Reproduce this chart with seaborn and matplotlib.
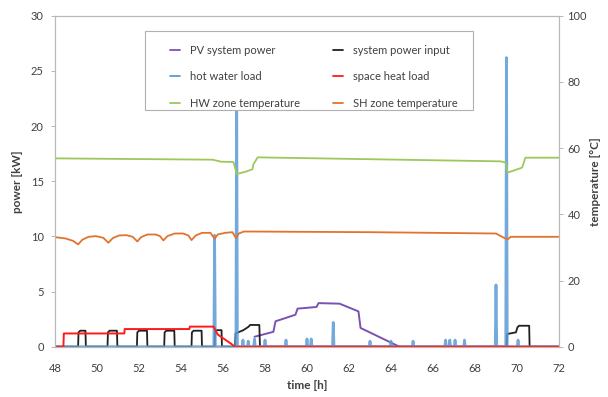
import matplotlib
matplotlib.use("Agg")
import matplotlib.pyplot as plt
import matplotlib.patches as mpatches
import numpy as np
import pandas as pd
import seaborn as sns

# ---------------- data ----------------
pv_time = [57.5, 58.4, 58.5, 59.45, 59.55, 60.45, 60.55, 61.55, 62.45, 62.55, 64.4]
pv_power = [0.9, 1.35, 2.3, 2.9, 3.45, 3.6, 3.95, 3.9, 3.2, 1.7, 0.0]

sys_time = [48.0, 49.1, 49.12, 49.2, 49.45, 49.47,
            50.5, 50.52, 50.6, 50.95, 50.97,
            51.9, 51.92, 52.0, 52.38, 52.4,
            53.2, 53.22, 53.3, 53.68, 53.7,
            54.5, 54.52, 54.6, 54.98, 55.0,
            55.6, 55.62, 55.7, 55.93, 55.95,
            56.57, 56.6, 56.97, 57.21, 57.29, 57.73, 57.76,
            69.5, 69.53, 69.95, 70.02, 70.1, 70.58, 70.6, 72.0]
sys_power = [0.0, 0.0, 1.3, 1.45, 1.45, 0.0,
             0.0, 1.3, 1.45, 1.45, 0.0,
             0.0, 1.3, 1.45, 1.45, 0.0,
             0.0, 1.3, 1.45, 1.45, 0.0,
             0.0, 1.3, 1.45, 1.45, 0.0,
             0.0, 1.35, 1.5, 1.5, 0.0,
             0.0, 1.2, 1.5, 1.8, 1.97, 1.97, 0.0,
             0.0, 1.15, 1.3, 1.75, 1.9, 1.9, 0.0, 0.0]

hw_spike_time = [55.6, 56.65, 56.95, 57.2, 57.5, 58.0, 59.0, 60.0, 60.2, 61.25,
                 63.0, 64.0, 65.05, 66.6, 66.8, 67.05, 67.5, 69.0, 69.5, 70.05]
hw_spike_peak = [10.1, 24.0, 0.6, 0.5, 0.7, 0.6, 0.6, 0.7, 0.7, 2.2,
                 0.5, 0.5, 0.5, 0.6, 0.6, 0.6, 0.6, 5.6, 26.2, 0.6]

sh_time = [48.0, 48.4, 48.42, 51.3, 51.32, 54.4, 54.42, 55.55, 55.75, 56.4, 56.55, 72.0]
sh_load = [0.0, 0.0, 1.2, 1.2, 1.6, 1.6, 1.82, 1.82, 1.1, 0.25, 0.0, 0.0]

hwt_time = [48.0, 55.5, 55.9, 56.5, 56.65, 57.05, 57.4, 57.45, 57.65, 69.2, 69.45, 69.55,
            70.2, 70.25, 70.4, 72.0]
hwt_temp = [56.9, 56.5, 55.9, 55.8, 52.2, 52.8, 53.6, 55.1, 57.2, 56.0, 55.7, 52.6,
            54.0, 54.2, 57.1, 57.1]

sht_time = [48.0, 48.5, 48.85, 49.1, 49.3, 49.6, 49.95, 50.3, 50.54, 50.75, 51.05, 51.4,
            51.7, 51.92, 52.1, 52.4, 52.8, 53.0, 53.16, 53.35, 53.7, 54.1, 54.35, 54.5,
            54.7, 55.0, 55.4, 55.6, 55.75, 56.1, 56.45, 56.62, 56.75, 57.0, 63.0, 69.0,
            69.35, 69.55, 69.7, 72.0]
sht_temp = [33.1, 32.7, 32.0, 30.9, 32.3, 33.2, 33.4, 32.9, 31.4, 32.8, 33.6, 33.7,
            33.2, 31.8, 33.1, 33.9, 33.9, 33.4, 32.1, 33.4, 34.2, 34.2, 33.6, 32.2,
            33.6, 34.4, 34.4, 32.6, 33.9, 34.4, 34.6, 32.8, 34.2, 34.8, 34.6, 34.2,
            33.0, 32.4, 33.2, 33.2]

x_ticks = [48, 50, 52, 54, 56, 58, 60, 62, 64, 66, 68, 70, 72]
y_ticks = [0, 5, 10, 15, 20, 25, 30]
t_ticks = [0, 20, 40, 60, 80, 100]

# hot water load series: baseline with narrow spikes at the read times
hw_t = [48.0]
hw_v = [0.0]
for t, p in zip(hw_spike_time, hw_spike_peak):
    hw_t += [t - 0.035, t, t + 0.035]
    hw_v += [0.0, p, 0.0]
hw_t.append(72.0)
hw_v.append(0.0)

# ---------------- style ----------------
sns.set_style("white")
plt.rcParams['font.family'] = ['Lato', 'DejaVu Sans']
TXT = '#404040'

c_pv = '#7a52b3'
c_sys = '#202020'
c_hw = '#5b9bd5'
c_sh = '#ff1a1a'
c_hwt = '#9dc85a'
c_sht = '#e2732f'

fig = plt.figure(figsize=(6.08, 3.97), dpi=100)
ax = fig.add_axes([55 / 608, 1 - 346.7 / 397, (559 - 55) / 608, (346.7 - 15.7) / 397])
ax2 = ax.twinx()

df_pv = pd.DataFrame({'t': pv_time, 'v': pv_power})
df_sys = pd.DataFrame({'t': sys_time, 'v': sys_power})
df_hw = pd.DataFrame({'t': hw_t, 'v': hw_v})
df_sh = pd.DataFrame({'t': sh_time, 'v': sh_load})
df_hwt = pd.DataFrame({'t': hwt_time, 'v': hwt_temp})
df_sht = pd.DataFrame({'t': sht_time, 'v': sht_temp})

kw = dict(x='t', y='v', estimator=None, sort=False, legend=False)
sns.lineplot(data=df_pv, ax=ax, color=c_pv, lw=1.4, **kw)
sns.lineplot(data=df_sys, ax=ax, color=c_sys, lw=1.3, **kw)
sns.lineplot(data=df_hw, ax=ax, color=c_hw, lw=2.0, alpha=0.85, **kw)
sns.lineplot(data=df_sh, ax=ax, color=c_sh, lw=1.4, **kw)
sns.lineplot(data=df_hwt, ax=ax2, color=c_hwt, lw=1.3, **kw)
sns.lineplot(data=df_sht, ax=ax2, color=c_sht, lw=1.3, **kw)

ax.set_xlim(48, 72)
ax.set_ylim(0, 30)
ax2.set_ylim(0, 100)
ax.set_xticks(x_ticks)
ax.set_yticks(y_ticks)
ax2.set_yticks(t_ticks)

for a in (ax, ax2):
    for s in a.spines.values():
        s.set_color('#b8b8b8')
        s.set_linewidth(0.8)
    a.tick_params(labelsize=8, colors=TXT, length=3, width=0.7, color='#b8b8b8', pad=3)
ax.tick_params(axis='x', pad=9)
ax.tick_params(axis='y', pad=5)

ax.set_xlabel('time [h]', fontsize=8.5, fontweight='bold', color=TXT, labelpad=4)
ax.set_ylabel('power [kW]', fontsize=8.5, fontweight='bold', color=TXT, labelpad=6)
ax2.set_ylabel('temperature [°C]', fontsize=8.5, fontweight='bold', color=TXT, labelpad=2)

# legend box
rect = mpatches.Rectangle((145 / 608, 1 - 110 / 397), (473 - 145) / 608, (110 - 31) / 397,
                          transform=fig.transFigure, facecolor='white', edgecolor='#b0b0b0',
                          linewidth=0.8, zorder=10)
fig.patches.append(rect)

labels = ['PV system power', 'hot water load', 'HW zone temperature',
          'system power input', 'space heat load', 'SH zone temperature']
colors = [c_pv, c_hw, c_hwt, c_sys, c_sh, c_sht]
handles = [plt.Line2D([], [], color=c, lw=1.3) for c in colors]
leg = fig.legend(handles, labels, loc='upper left', ncol=2,
                 bbox_to_anchor=(170 / 608, 1 - 45 / 397), bbox_transform=fig.transFigure,
                 frameon=False, fontsize=8, handlelength=0.9, handletextpad=0.9,
                 labelspacing=1.38, columnspacing=3.0, borderpad=0, borderaxespad=0)
leg.set_zorder(11)
for t in leg.get_texts():
    t.set_color(TXT)

fig.savefig('out.png', dpi=100)
